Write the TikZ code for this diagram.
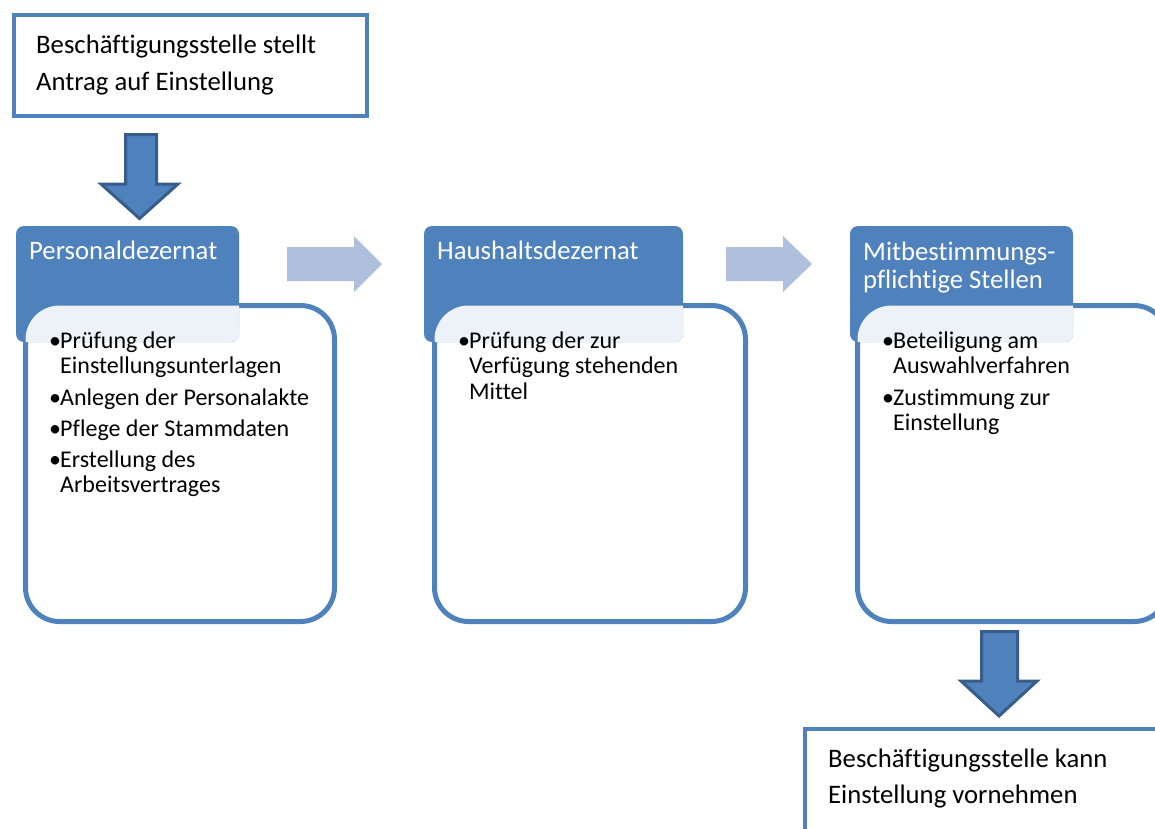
\documentclass[tikz,border=0pt]{standalone}
\usepackage{fontspec}
\setmainfont{Carlito}[Ligatures=NoCommon]
\definecolor{hdr}{HTML}{4F81BD}
\definecolor{arrline}{HTML}{385D8A}
\definecolor{lightarr}{RGB}{175,192,221}
\begin{document}
\begin{tikzpicture}[x=1pt,y=-1pt,
  txt/.style={font=\fontsize{26.7}{30}\selectfont, inner sep=0pt, anchor=base west},
  hdrtxt/.style={txt, text=white},
  itemtxt/.style={font=\fontsize{24}{25.5}\selectfont, inner sep=0pt, anchor=base west},
  plainbox/.style={draw=hdr, line width=4pt, fill=white},
  listbox/.style={draw=hdr, line width=5pt, fill=white, rounded corners=34pt},
  hdrbox/.style={fill=hdr, rounded corners=8pt},
  overlay/.style={fill=white, fill opacity=0.9, rounded corners=34pt},
  bigarrow/.style={fill=hdr, draw=arrline, line width=3pt},
  flowarrow/.style={fill=lightarr}]
\useasboundingbox (0,0) rectangle (1155,828);
\newcommand{\itm}[1]{\makebox[11pt][l]{•}\parbox[t]{280pt}{\raggedright #1}}

% top request box
\draw[plainbox] (14,15) rectangle (367,116);
\node[txt] (req1) at (36,53) {Beschäftigungsstelle stellt};
\node[txt] (req2) at (36,90) {Antrag auf Einstellung};

% down arrow 1
\draw[bigarrow] (125.5,134.5) -- (156.5,134.5) -- (156.5,184) -- (178,184) -- (139.5,218.5) -- (101,184) -- (125.5,184) -- cycle;

% column 1
\draw[listbox] (25.5,305.5) rectangle (334.5,621.5);
\fill[hdrbox] (16,226) rectangle (239,342);
\begin{scope}
  \clip[rounded corners=8pt] (16,226) rectangle (239,342);
  \fill[overlay] (25.5,305.5) rectangle (334.5,621.5);
\end{scope}
\node[hdrtxt] (h1) at (29,259) {Personaldezernat};
\node[itemtxt] (i11) at (49,348) {\itm{Prüfung der\\Einstellungsunterlagen}};
\node[itemtxt] (i12) at (49,405) {\itm{Anlegen der Personalakte}};
\node[itemtxt] (i13) at (49,436) {\itm{Pflege der Stammdaten}};
\node[itemtxt] (i14) at (49,467) {\itm{Erstellung des\\Arbeitsvertrages}};

% flow arrow 1
\fill[flowarrow] (287,247) -- (354,247) -- (354,236) -- (382,264) -- (354,292) -- (354,281) -- (287,281) -- cycle;

% column 2
\draw[listbox] (434.5,305.5) rectangle (745.5,621.5);
\fill[hdrbox] (424,226) rectangle (683,342);
\begin{scope}
  \clip[rounded corners=8pt] (424,226) rectangle (683,342);
  \fill[overlay] (434.5,305.5) rectangle (745.5,621.5);
\end{scope}
\node[hdrtxt] (h2) at (437,259) {Haushaltsdezernat};
\node[itemtxt] (i21) at (458,348) {\itm{Prüfung der zur\\Verfügung stehenden\\Mittel}};

% flow arrow 2
\fill[flowarrow] (726,247) -- (783,247) -- (783,236) -- (812,264) -- (783,292) -- (783,281) -- (726,281) -- cycle;

% column 3
\draw[listbox] (857.5,305.5) rectangle (1168,621.5);
\fill[hdrbox] (850,226) rectangle (1073,342);
\begin{scope}
  \clip[rounded corners=8pt] (850,226) rectangle (1073,342);
  \fill[overlay] (857.5,305.5) rectangle (1168,621.5);
\end{scope}
\node[hdrtxt] (h3a) at (863,260) {Mitbestimmungs-};
\node[hdrtxt] (h3b) at (863,288) {pflichtige Stellen};
\node[itemtxt] (i31) at (882,348) {\itm{Beteiligung am\\Auswahlverfahren}};
\node[itemtxt] (i32) at (882,405) {\itm{Zustimmung zur\\Einstellung}};

% down arrow 2
\draw[bigarrow] (981.5,631.5) -- (1017.5,631.5) -- (1017.5,681) -- (1037,681) -- (999,716) -- (961,681) -- (981.5,681) -- cycle;

% bottom result box
\draw[plainbox] (805,729) rectangle (1160,832);
\node[txt] (res1) at (828,767) {Beschäftigungsstelle kann};
\node[txt] (res2) at (828,803) {Einstellung vornehmen};
\end{tikzpicture}
\end{document}
